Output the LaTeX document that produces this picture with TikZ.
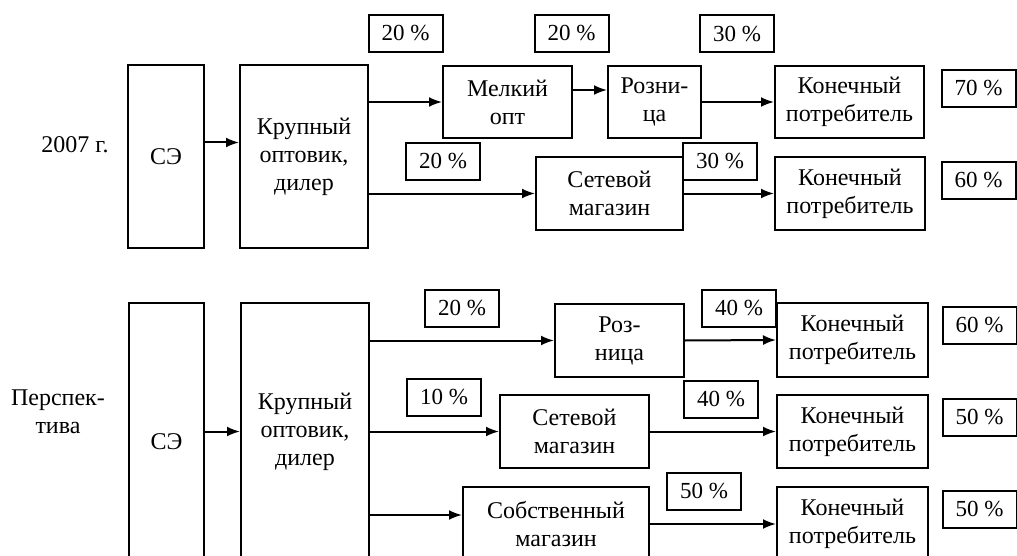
\documentclass[tikz,border=0pt]{standalone}
\usepackage{fontspec}
\setmainfont{Liberation Serif}
\usetikzlibrary{arrows.meta,positioning}

\tikzset{
  box/.style={draw, line width=1pt, inner sep=0pt, align=center, font=\fontsize{12}{14}\selectfont},
  pct/.style={draw, line width=1pt, inner sep=0pt, minimum width=37pt, minimum height=18.5pt, font=\fontsize{11.5}{13}\selectfont},
  flow/.style={-{Latex[length=6.5pt,width=5pt]}, line width=1pt},
}

\begin{document}
\begin{tikzpicture}[x=0.5pt, y=-0.5pt]
    \useasboundingbox (0,0) rectangle (1017,556);
    \clip (0,0) rectangle (1017,556);

    % Row labels
    \node[font=\fontsize{12}{14}\selectfont] (lab07) at (75,145) {2007 г.};
    \node[align=center, font=\fontsize{12}{14}\selectfont] (labP) at (58,412) {Перспек-\\тива};

    % 2007
    \node[box, minimum width=38pt, minimum height=91.5pt] (se1) at (166,156.5) {СЭ};
    \node[box, minimum width=64pt, minimum height=91.5pt] (big1) at (304,156.5) {Крупный\\оптовик,\\дилер};
    \node[box, minimum width=64.5pt, minimum height=36pt] (small) at (507.5,102) {Мелкий\\опт};
    \node[box, minimum width=46.5pt, minimum height=36pt] (retail1) at (654.5,102) {Розни-\\ца};
    \node[box, minimum width=74.5pt, minimum height=36pt] (cons1) at (849.5,102) {Конечный\\потребитель};
    \node[box, minimum width=73.5pt, minimum height=36.5pt] (chain1) at (609.5,193.5) {Сетевой\\магазин};
    \node[box, minimum width=75pt, minimum height=36.5pt] (cons2) at (850,193.5) {Конечный\\потребитель};

    % Perspective
    \node[box, minimum width=37.5pt, minimum height=139pt] (se2) at (166.5,442) {СЭ};
    \node[box, minimum width=64pt, minimum height=129pt] (big2) at (305,432) {Крупный\\оптовик,\\дилер};
    \node[box, minimum width=64.5pt, minimum height=36.5pt] (retail2) at (619.5,340.5) {Роз-\\ница};
    \node[box, minimum width=75.5pt, minimum height=37pt] (cons3) at (852.5,340) {Конечный\\потребитель};
    \node[box, minimum width=74.5pt, minimum height=36.5pt] (chain2) at (574.5,431.5) {Сетевой\\магазин};
    \node[box, minimum width=75.5pt, minimum height=36.5pt] (cons4) at (852.5,431.5) {Конечный\\потребитель};
    \node[box, minimum width=93pt, minimum height=37pt] (own) at (556,524) {Собственный\\магазин};
    \node[box, minimum width=75.5pt, minimum height=37pt] (cons5) at (852.5,524) {Конечный\\потребитель};

    % Shares
    \foreach \n/\x/\y/\v in {
            1/405.5/33.5/20, 2/571.5/33.5/20, 3/737/34/30,
            4/978.5/88.5/70, 5/443/161.5/20, 6/720/161.5/30,
            7/978.5/180/60, 8/462/308/20, 9/739/308/40,
            10/979.5/325.5/60, 11/444/397.5/10, 12/721/399/40,
            13/979.5/417/50, 14/704/491/50, 15/979.5/509/50} {
        \node[pct] (pct\n) at (\x,\y) {\v\ \%};
    }

    % Flows 2007
    \draw[flow] ([yshift=7pt]se1.east) -- ([yshift=7pt]big1.west);
    \draw[flow] (small.west -| big1.east) -- (small.west);
    \draw[flow] ([yshift=6pt]small.east) -- ([yshift=6pt]retail1.west);
    \draw[flow] (retail1.east) -- (cons1.west);
    \draw[flow] (chain1.west -| big1.east) -- (chain1.west);
    \draw[flow] (chain1.east) -- (cons2.west);

    % Flows perspective
    \draw[flow] (se2.east |- chain2.west) -- (big2.west |- chain2.west);
    \draw[flow] (retail2.west -| big2.east) -- (retail2.west);
    \draw[flow] (retail2.east) -- (cons3.west);
    \draw[flow] (chain2.west -| big2.east) -- (chain2.west);
    \draw[flow] (chain2.east) -- (cons4.west);
    \draw[flow] ([yshift=4.5pt]own.west -| big2.east) -- ([yshift=4.5pt]own.west);
    \draw[flow] (own.east) -- (cons5.west);
\end{tikzpicture}
\end{document}
